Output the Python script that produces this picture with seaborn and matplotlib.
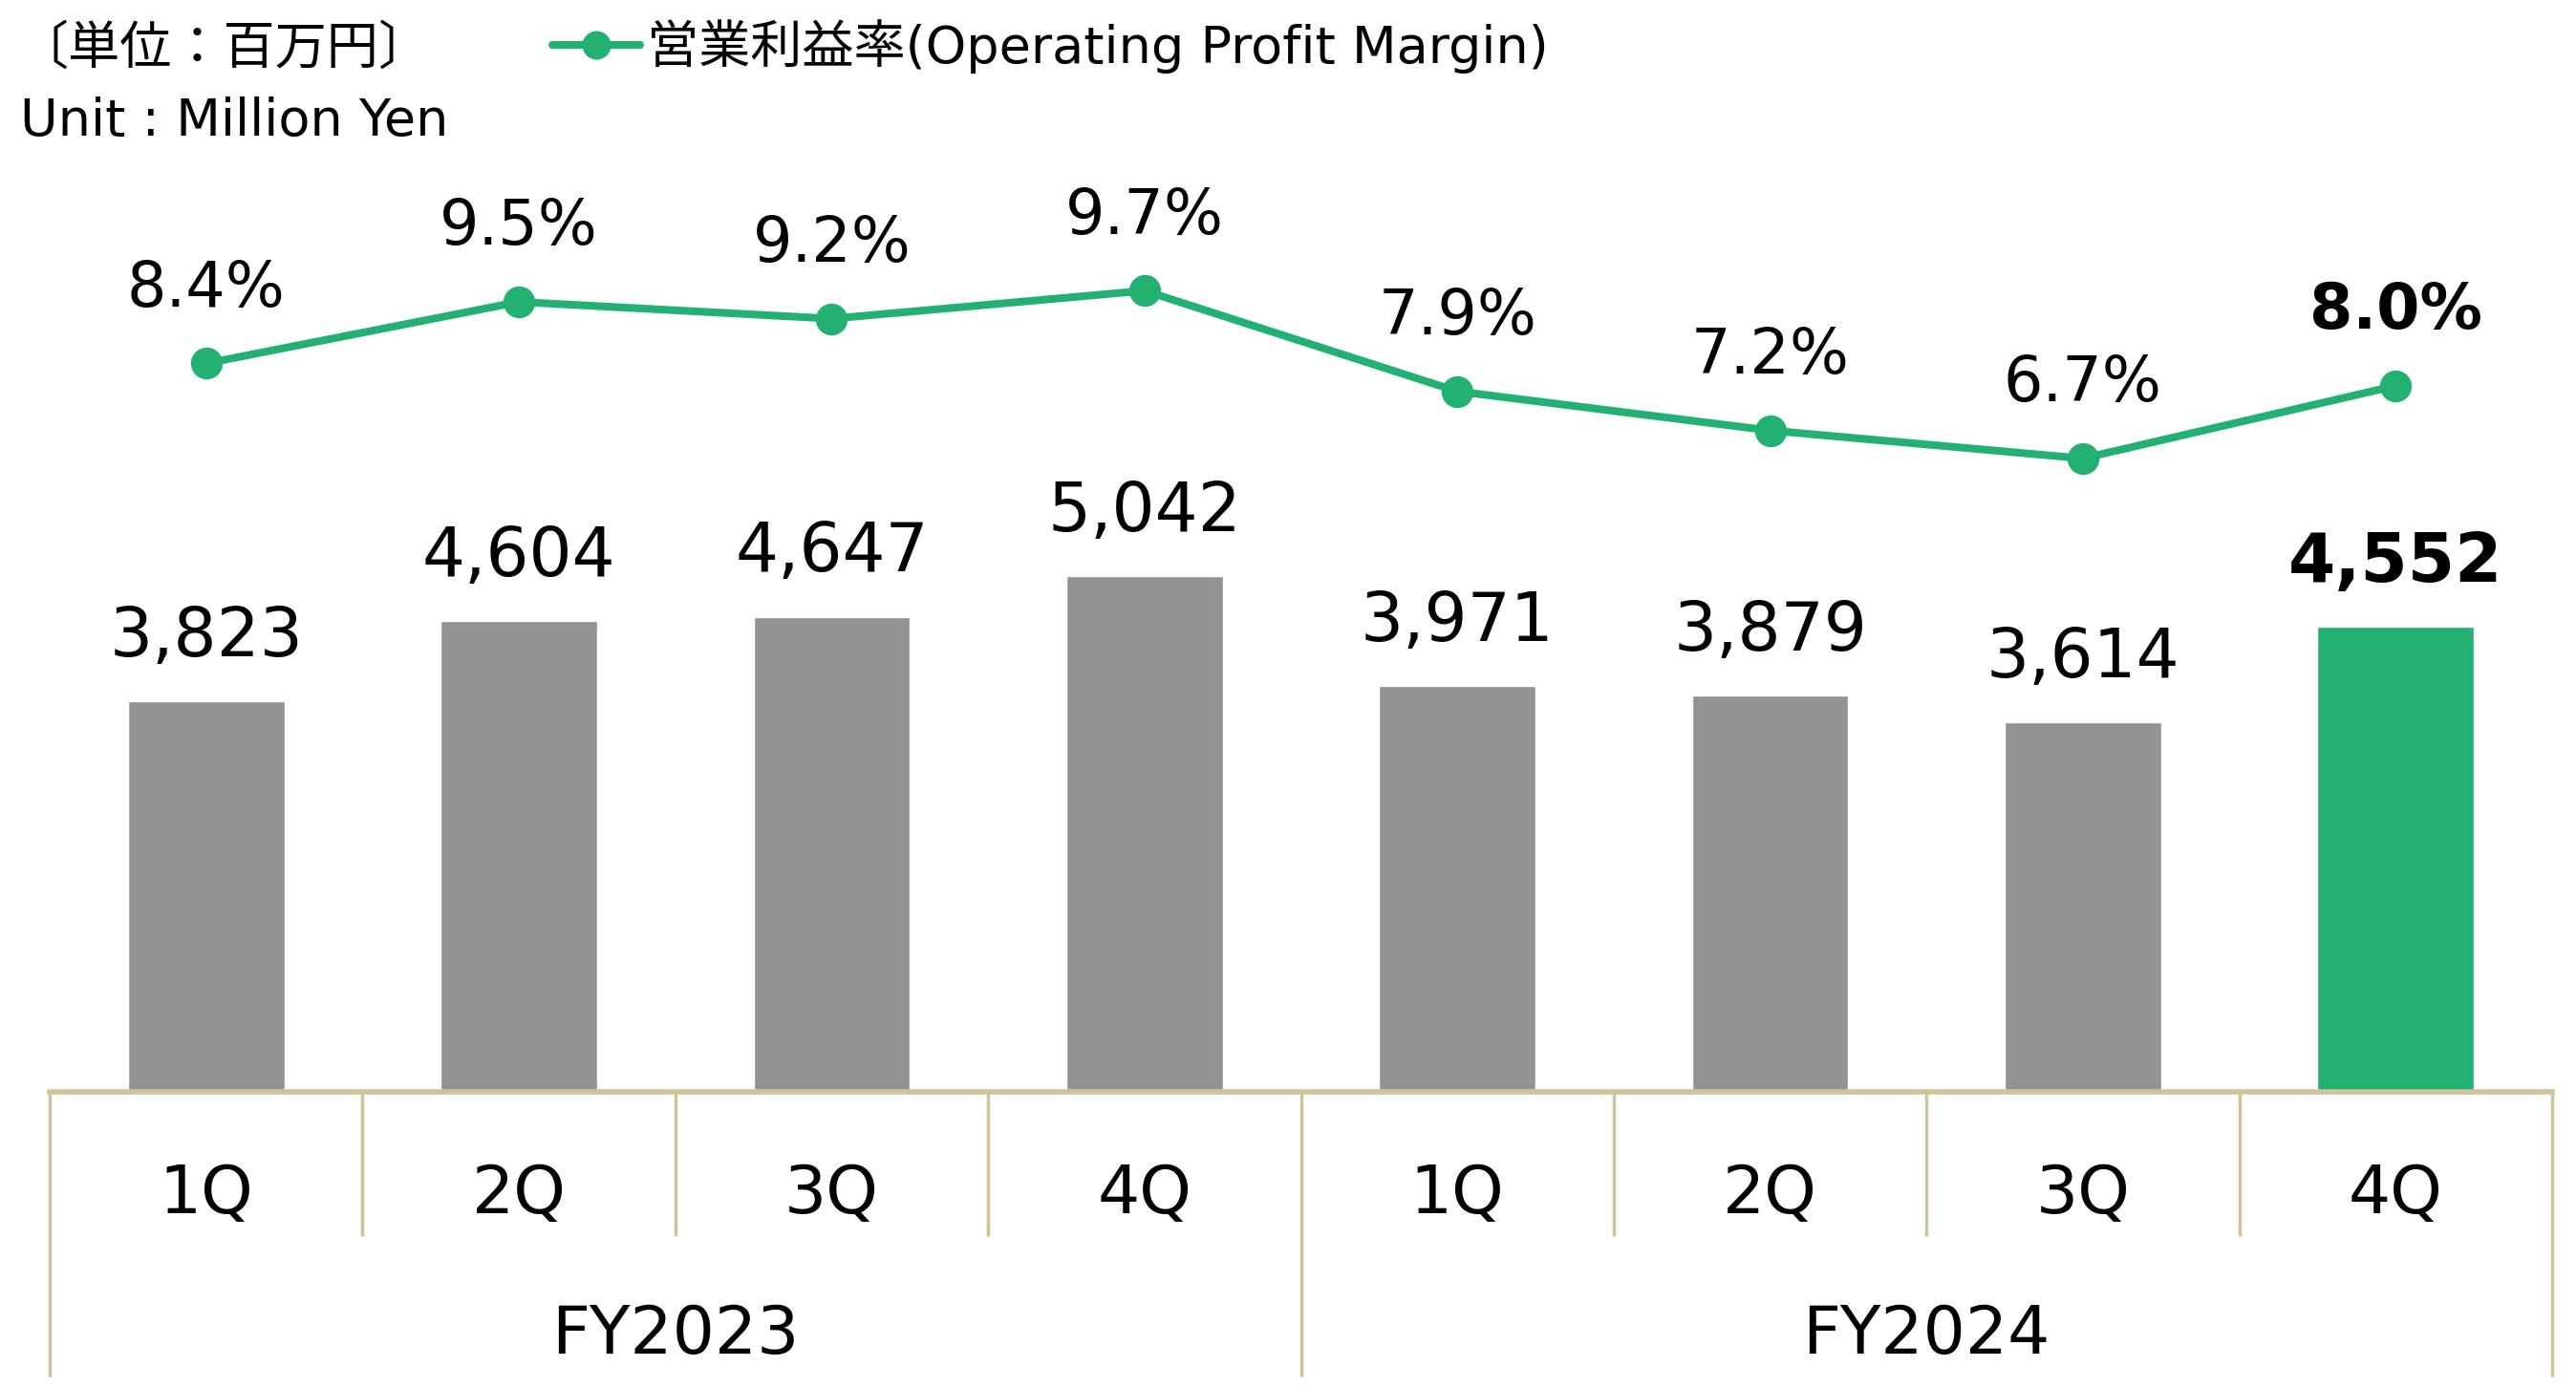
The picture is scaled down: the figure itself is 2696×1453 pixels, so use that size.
import numpy as np
import pandas as pd
import matplotlib
matplotlib.use("Agg")
import matplotlib.pyplot as plt
import seaborn as sns

# data
fiscal_years = ["FY2023", "FY2024"]
quarters = ["1Q", "2Q", "3Q", "4Q"]
operating_profit = [3823, 4604, 4647, 5042, 3971, 3879, 3614, 4552]
profit_margin = [8.4, 9.5, 9.2, 9.7, 7.9, 7.2, 6.7, 8.0]

GRAY = "#939393"
GREEN = "#23B173"
TAN = "#CFC39B"

sns.set_style("white")
plt.rcParams["font.family"] = ["DejaVu Sans", "Noto Sans CJK JP"]
plt.rcParams["text.color"] = "black"

keys = [f"{fy} {q}" for fy in fiscal_years for q in quarters]
df = pd.DataFrame({"key": keys, "profit": operating_profit,
                   "margin": profit_margin, "pos": np.arange(len(keys))})
palette = {k: GRAY for k in keys}
palette[keys[-1]] = GREEN

fig = plt.figure(figsize=(26.96, 14.53), dpi=100)
ax = fig.add_axes([52 / 2696, 1 - 1143 / 1453, (2671 - 52) / 2696, 1143 / 1453])

sns.barplot(data=df, x="key", y="profit", hue="key", palette=palette,
            order=keys, width=0.5, legend=False, ax=ax, saturation=1)
ax.set_xlim(-0.5, len(keys) - 0.5)
ax.set_ylim(0, 10680)
ax.set_xlabel("")
ax.set_ylabel("")
ax.set_xticks([])
ax.set_yticks([])
for s in ["top", "left", "right"]:
    ax.spines[s].set_visible(False)
ax.spines["bottom"].set_color(TAN)
ax.spines["bottom"].set_linewidth(4)

for i, v in enumerate(operating_profit):
    last = i == len(operating_profit) - 1
    ax.annotate(f"{v:,}", xy=(i, v), xytext=(0, 34), textcoords="offset points",
                ha="center", va="baseline", fontsize=51,
                fontweight="bold" if last else "normal")

# margin line on secondary axis
ax2 = ax.twinx()
sns.lineplot(data=df, x="pos", y="margin", color=GREEN, linewidth=5.8,
             marker="o", markersize=24, markeredgewidth=0,
             label="営業利益率(Operating Profit Margin)", ax=ax2, legend=False)
ax2.set_ylim(-4.63, 14.9)
ax2.set_xlim(-0.5, len(keys) - 0.5)
ax2.set_yticks([])
ax2.set_xlabel("")
ax2.set_ylabel("")
for s in ax2.spines.values():
    s.set_visible(False)

for i, v in enumerate(profit_margin):
    last = i == len(profit_margin) - 1
    ax2.annotate(f"{v:.1f}%", xy=(i, v), xytext=(0, 43), textcoords="offset points",
                 ha="center", va="baseline", fontsize=47,
                 fontweight="bold" if last else "normal")

# category axis: quarter and fiscal year labels with separators
tr = ax.get_xaxis_transform()
for i, k in enumerate(keys):
    ax.text(i, -0.094, k.split()[1], transform=tr, ha="center", va="center", fontsize=50)
for j, fy in enumerate(fiscal_years):
    center = j * len(quarters) + (len(quarters) - 1) / 2
    ax.text(center, -0.223, fy, transform=tr, ha="center", va="center", fontsize=50)

for b in np.arange(len(keys) + 1) - 0.5:
    idx = int(b + 0.5)
    low = -0.261 if idx % len(quarters) == 0 else -0.132
    ax.plot([b, b], [0, low], transform=tr, color=TAN, linewidth=2.5,
            clip_on=False, solid_capstyle="butt")

# unit text and legend
fig.text(17 / 2696, 1 - 52 / 1453, "〔単位：百万円〕", ha="left", va="center", fontsize=39)
fig.text(21 / 2696, 1 - 127 / 1453, "Unit : Million Yen", ha="left", va="center", fontsize=39)
handles, labels = ax2.get_legend_handles_labels()
fig.legend(handles, labels, loc="center left", bbox_to_anchor=(578 / 2696, 1 - 49 / 1453),
           frameon=False, fontsize=39, borderpad=0, borderaxespad=0,
           handlelength=1.7, handletextpad=0.12, markerscale=0.9)

fig.savefig("out.png", dpi=100)
